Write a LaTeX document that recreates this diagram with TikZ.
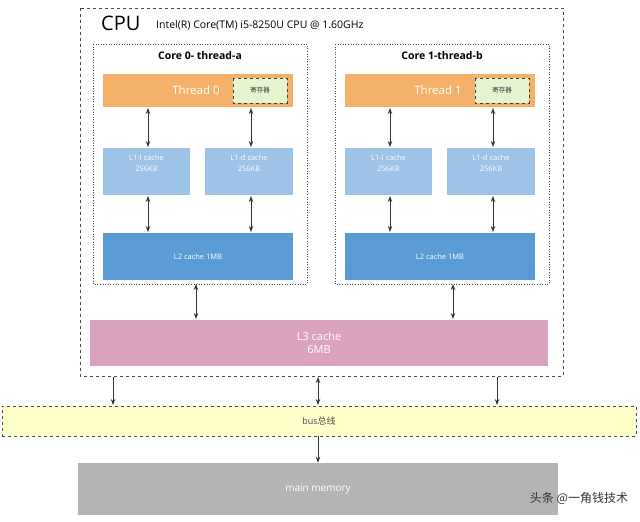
\documentclass[tikz,border=0pt]{standalone}
\usepackage{fontspec}
\setmainfont{Open Sans}
\newfontfamily\cjk{Noto Sans CJK SC}
\usetikzlibrary{arrows.meta}
\definecolor{orng}{HTML}{F4B16A}
\definecolor{lone}{HTML}{9DC3E6}
\definecolor{ltwo}{HTML}{5B9BD5}
\definecolor{lthree}{HTML}{D9A3C0}
\definecolor{busc}{HTML}{FFFFCC}
\definecolor{memc}{HTML}{B4B4B4}
\definecolor{regc}{HTML}{E6F5CF}
\begin{document}
\begin{tikzpicture}[x=1pt,y=-1pt,
  box/.style={draw=none,inner sep=0pt,text=white,align=center,font=\fontsize{7.5}{11}\selectfont},
  ar/.style={draw=black!80,line width=1pt,-{Stealth[length=6pt,width=4.5pt]}},
  dar/.style={draw=black!80,line width=1pt,{Stealth[length=6pt,width=4.5pt]}-{Stealth[length=6pt,width=4.5pt]}}]
\useasboundingbox (0,0) rectangle (640,522);
\fill[white] (0,0) rectangle (640,522);
% CPU
\draw[dashed,black!70,line width=0.8pt] (80,8) rectangle (563,376);
\node[anchor=west,inner sep=0,font=\fontsize{20}{22}\selectfont] (cpu) at (101,23) {CPU};
\node[anchor=west,inner sep=0,font=\fontsize{10.5}{12}\selectfont] (intel) at (156,25) {Intel(R) Core(TM) i5-8250U CPU @ 1.60GHz};
\foreach \i/\x/\t in {0/0/Core 0- thread-a,1/242/Core 1-thread-b}{
  \draw[dotted,black!70,line width=0.6pt] (93+\x,44) rectangle (307+\x,284);
  \node[font=\fontsize{10.5}{12}\selectfont\bfseries] (core\i) at (200+\x,56) {\t};
  \fill[orng] (103+\x,74) rectangle (293+\x,107);
  \node[box,font=\fontsize{11.5}{13}\selectfont] (th\i) at (196+\x,90.5) {Thread \i};
  \draw[dashed,black!75,line width=1pt,fill=regc] (233+\x,78) rectangle (287+\x,103);
  \node[font=\cjk\fontsize{6.5}{7}\selectfont,text=black!80] (reg\i) at (260+\x,90.5) {寄存器};
  \node[box,fill=lone,minimum width=87,minimum height=47,text depth=16pt] (li\i) at (146.5+\x,171.5) {L1-I cache\\256KB};
  \node[box,fill=lone,minimum width=88,minimum height=47,text depth=16pt] (ld\i) at (249+\x,171.5) {L1-d cache\\256KB};
  \node[box,fill=ltwo,minimum width=190,minimum height=47] (l2\i) at (198+\x,256.5) {L2 cache 1MB};
  \coordinate (ta\i) at (148+\x,108); \coordinate (tb\i) at (251+\x,108);
  \draw[dar] (ta\i) -- (148+\x,147);
  \draw[dar] (tb\i) -- (251+\x,147);
  \draw[dar] (148+\x,196) -- (148+\x,232);
  \draw[dar] (251+\x,196) -- (251+\x,232);
}
\node[box,fill=lthree,minimum width=458,minimum height=46,font=\fontsize{11}{13}\selectfont] (l3) at (319,343) {L3 cache\\6MB};
\draw[dar] (196,284) -- (196,319);
\draw[dar] (453,284) -- (453,319);
% bus
\node[draw=black!70,dashed,line width=0.8pt,fill=busc,minimum width=634,minimum height=30,inner sep=0,font=\fontsize{9}{10}\selectfont,text=black!70] (bus) at (319,421) {bus{\cjk 总线}};
\draw[ar] (113,377) -- (113,405);
\draw[dar] (318,377) -- (318,405);
\draw[ar] (497,377) -- (497,405);
\node[box,fill=memc,minimum width=480,minimum height=52,font=\fontsize{10}{12}\selectfont] (mem) at (318,489) {main memory};
\draw[ar] (bus.south -| mem.north) -- (mem.north);
\node[font=\cjk\fontsize{12}{14}\selectfont,text=black!80] (wm) at (579,498) {头条 @一角钱技术};
\end{tikzpicture}
\end{document}
